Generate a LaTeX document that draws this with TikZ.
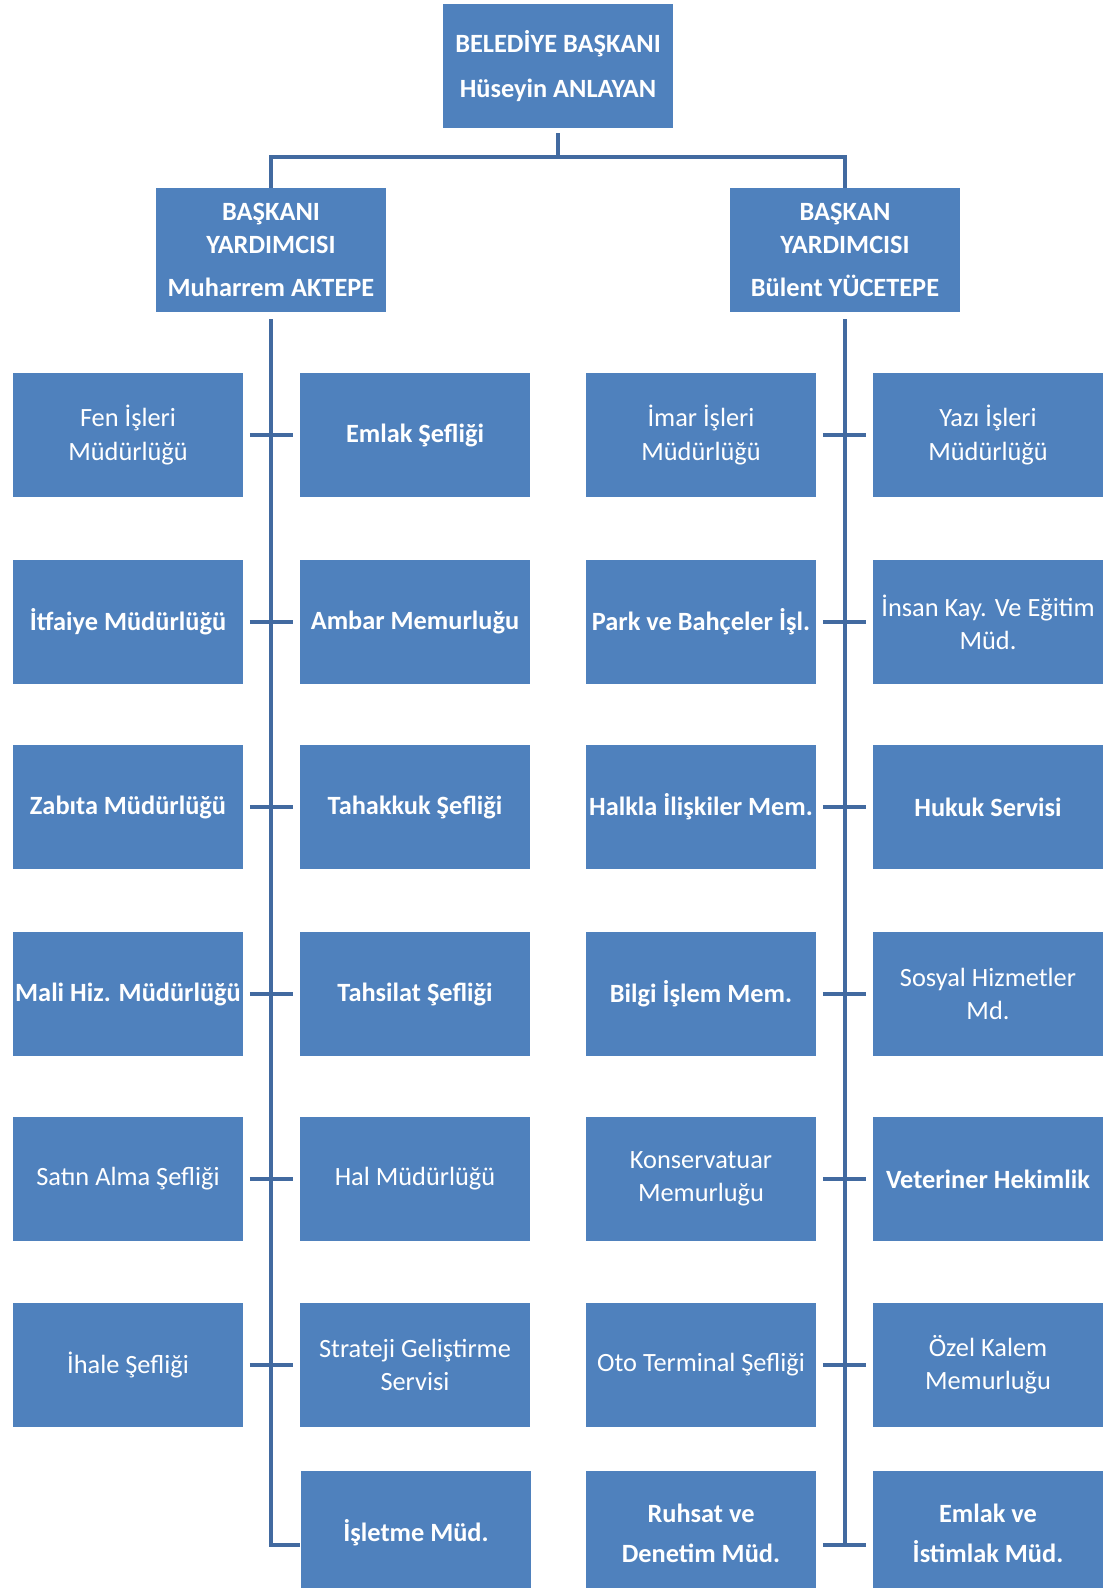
\documentclass[tikz,border=0pt]{standalone}
\usepackage{fontspec}
\setmainfont{Carlito}
\definecolor{kutumavi}{RGB}{79,129,189}
\definecolor{hatmavi}{RGB}{66,106,160}
\begin{document}
\begin{tikzpicture}[x=0.02cm, y=-0.02cm,
        birim/.style={rectangle, fill=kutumavi, text=white, minimum width=4.62cm, minimum height=2.48cm, inner sep=0pt, align=center, font=\fontsize{15}{18.8}\selectfont},
        kalin/.style={birim, font=\fontsize{15}{18.8}\selectfont\bfseries},
        baglanti/.style={draw=hatmavi, line width=2.8pt},
        kisa/.style={shorten <=0.12cm, shorten >=0.12cm}]
	    \clip (0,0) rectangle (1103,1588);
	    \node[kalin] (baskan) at (558,66) {BELEDİYE BAŞKANI\\[7pt]Hüseyin ANLAYAN};
	    \node[kalin] (yrd1) at (271,250) {BAŞKANI\\YARDIMCISI\\[6pt]Muharrem AKTEPE};
	    \node[kalin] (yrd2) at (845,250) {BAŞKAN\\YARDIMCISI\\[6pt]Bülent YÜCETEPE};
	    \node[birim] (fen) at (128,435) {Fen İşleri\\Müdürlüğü};
	    \node[kalin] (emlak) at (415,435) {Emlak Şefliği};
	    \node[kalin] (itfaiye) at (128,622) {İtfaiye Müdürlüğü};
	    \node[kalin] (ambar) at (415,622) {Ambar Memurluğu};
	    \node[kalin] (zabita) at (128,807) {Zabıta Müdürlüğü};
	    \node[kalin] (tahakkuk) at (415,807) {Tahakkuk Şefliği};
	    \node[kalin] (mali) at (128,994) {Mali Hiz. Müdürlüğü};
	    \node[kalin] (tahsilat) at (415,994) {Tahsilat Şefliği};
	    \node[birim] (satin) at (128,1179) {Satın Alma Şefliği};
	    \node[birim] (hal) at (415,1179) {Hal Müdürlüğü};
	    \node[birim] (ihale) at (128,1365) {İhale Şefliği};
	    \node[birim] (strateji) at (415,1365) {Strateji Geliştirme\\Servisi};
	    \node[kalin] (isletme) at (416,1533) {İşletme Müd.};
	    \node[birim] (imar) at (701,435) {İmar İşleri\\Müdürlüğü};
	    \node[birim] (yazi) at (988,435) {Yazı İşleri\\Müdürlüğü};
	    \node[kalin] (park) at (701,622) {Park ve Bahçeler İşl.};
	    \node[birim] (insan) at (988,622) {İnsan Kay. Ve Eğitim\\Müd.};
	    \node[kalin] (halkla) at (701,807) {Halkla İlişkiler Mem.};
	    \node[kalin] (hukuk) at (988,807) {Hukuk Servisi};
	    \node[kalin] (bilgi) at (701,994) {Bilgi İşlem Mem.};
	    \node[birim] (sosyal) at (988,994) {Sosyal Hizmetler\\Md.};
	    \node[birim] (konser) at (701,1179) {Konservatuar\\Memurluğu};
	    \node[kalin] (veteriner) at (988,1179) {Veteriner Hekimlik};
	    \node[birim] (oto) at (701,1365) {Oto Terminal Şefliği};
	    \node[birim] (ozel) at (988,1365) {Özel Kalem\\Memurluğu};
	    \node[kalin] (ruhsat) at (701,1533) {Ruhsat ve\\[4pt]Denetim Müd.};
	    \node[kalin] (istimlak) at (988,1533) {Emlak ve\\[4pt]İstimlak Müd.};
	    \coordinate (kol) at (558,157);
	    \coordinate (sol) at (271,1545);
	    \coordinate (sag) at (845,1545);
	    \draw[baglanti] ([yshift=-0.1cm]baskan.south) -- (kol);
	    \draw[baglanti] (yrd1.north) |- (kol) -| (yrd2.north);
	    \draw[baglanti] ([yshift=-0.14cm]yrd1.south) -- (sol) -- (isletme.west |- sol);
	    \draw[baglanti] ([yshift=-0.14cm]yrd2.south) -- (sag);
	    \draw[baglanti, kisa] (fen) -- (emlak);
	    \draw[baglanti, kisa] (itfaiye) -- (ambar);
	    \draw[baglanti, kisa] (zabita) -- (tahakkuk);
	    \draw[baglanti, kisa] (mali) -- (tahsilat);
	    \draw[baglanti, kisa] (satin) -- (hal);
	    \draw[baglanti, kisa] (ihale) -- (strateji);
	    \draw[baglanti, kisa] (imar) -- (yazi);
	    \draw[baglanti, kisa] (park) -- (insan);
	    \draw[baglanti, kisa] (halkla) -- (hukuk);
	    \draw[baglanti, kisa] (bilgi) -- (sosyal);
	    \draw[baglanti, kisa] (konser) -- (veteriner);
	    \draw[baglanti, kisa] (oto) -- (ozel);
	    \draw[baglanti, kisa] (ruhsat.east |- sag) -- (istimlak.west |- sag);
	\end{tikzpicture}
\end{document}
